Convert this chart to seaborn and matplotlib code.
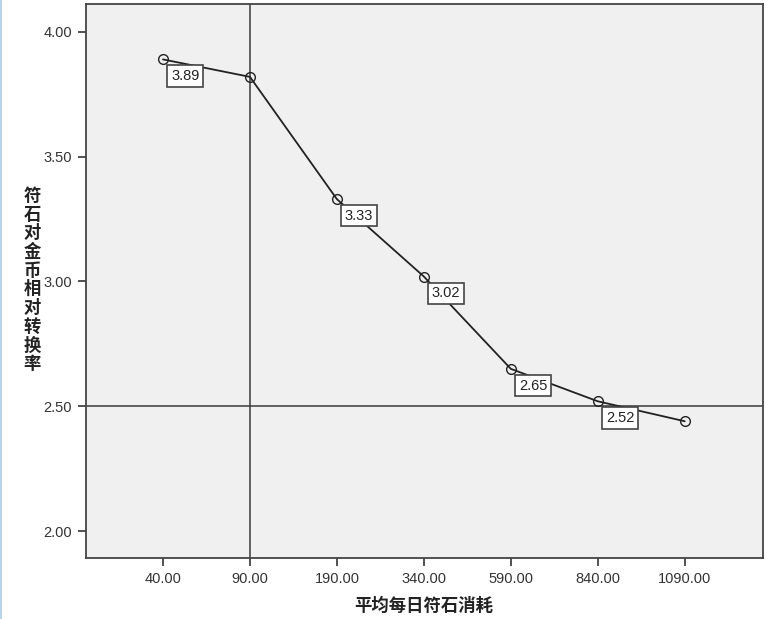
import matplotlib
matplotlib.use("Agg")
import matplotlib.pyplot as plt
import seaborn as sns
import pandas as pd

# 数据
categories = ["40.00", "90.00", "190.00", "340.00", "590.00", "840.00", "1090.00"]
rates = [3.89, 3.82, 3.33, 3.02, 2.65, 2.52, 2.44]
labels = ["3.89", "", "3.33", "3.02", "2.65", "2.52", ""]
y_ticks = [2.00, 2.50, 3.00, 3.50, 4.00]
ref_x = "90.00"
ref_y = 2.50

sns.set_theme(style="white")
plt.rcParams["font.family"] = ["Liberation Sans", "Noto Sans CJK SC", "DejaVu Sans"]

df = pd.DataFrame({"x": categories, "y": rates})

fig = plt.figure(figsize=(7.66, 6.19), dpi=100)
ax = fig.add_axes([86 / 766, 1 - 558 / 619, (763 - 86) / 766, (558 - 4) / 619])
ax.set_facecolor("#f0f0f0")

# 参考线
ax.axvline(categories.index(ref_x), color="#3a3a3a", linewidth=1.1, zorder=1)
ax.axhline(ref_y, color="#3a3a3a", linewidth=1.1, zorder=1)

sns.lineplot(
    data=df, x="x", y="y", ax=ax, color="#222222", linewidth=1.3,
    marker="o", markersize=7, markerfacecolor="none",
    markeredgecolor="#222222", markeredgewidth=1.0, sort=False, zorder=3,
)

# 数值标签
for i, (v, t) in enumerate(zip(rates, labels)):
    if not t:
        continue
    ax.annotate(
        t, (i, v), xytext=(16, -12), textcoords="offset points",
        ha="center", va="center", fontsize=10.5, color="#222222", zorder=5,
        bbox=dict(boxstyle="square,pad=0.25", fc="white", ec="#444444", lw=1.2),
    )

ax.set_xlim(-0.885, 6.9)
ax.set_ylim(1.892, 4.112)
ax.set_yticks(y_ticks)
ax.set_yticklabels([f"{v:.2f}" for v in y_ticks], fontsize=10.5, color="#333333")
ax.set_xticks(range(len(categories)))
ax.set_xticklabels(categories, fontsize=10.5, color="#333333")
ax.tick_params(axis="both", direction="out", length=6, width=1.2, color="#333333",
               bottom=True, left=True, pad=4)
for s in ax.spines.values():
    s.set_color("#444444")
    s.set_linewidth(1.3)

ax.set_xlabel("")
ax.set_ylabel("")
fig.text(424 / 766, 1 - 606 / 619, "平均每日符石消耗", ha="center", va="center",
         fontsize=12.5, fontweight="bold", color="#222222",
         family=["Noto Sans CJK SC", "DejaVu Sans"])
fig.text(32 / 766, 1 - 280 / 619, "\n".join("符石对金币相对转换率"), ha="center",
         va="center", fontsize=12.5, fontweight="bold", color="#222222",
         linespacing=1.05, family=["Noto Sans CJK SC", "DejaVu Sans"])

# 左侧边框
fig.add_artist(plt.Line2D([1.0 / 766, 1.0 / 766], [0, 1], color="#a9cbe6", linewidth=1.2))

fig.savefig("out.png", dpi=100)
